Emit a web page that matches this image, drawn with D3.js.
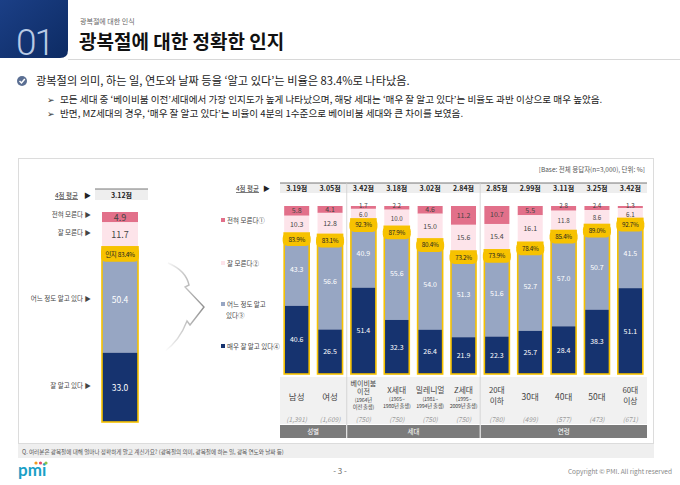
<!DOCTYPE html>
<html><head><meta charset="utf-8">
<script src="https://cdn.jsdelivr.net/npm/d3@7"></script>
<style>
html,body{margin:0;padding:0;background:#fff;}
svg{display:block;font-family:"Noto Sans CJK KR","Noto Sans",sans-serif;}
</style></head>
<body>
<svg id="c" width="680" height="485"></svg>
<script>
// ---------- DATA ----------
const segNames = ["전혀 모른다①","잘 모른다②","어느 정도 알고 있다③","매우 잘 알고 있다④"];
const totalLabels = ["전혀 모른다 ▶","잘 모른다 ▶","어느 정도 알고 있다 ▶","잘 알고 있다 ▶"];
const totalValues = [4.9, 11.7, 50.4, 33.0];
const totalAware = "인지 83.4%";
const totalAvg = "3.12점";

const categories = ["남성","여성","베이비붐 이전","X세대","밀레니얼","Z세대","20대 이하","30대","40대","50대","60대 이상"];
const catLines = [["남성"],["여성"],["베이비붐","이전","(1964년","이전 출생)"],["X세대","(1965~","1980년 출생)"],["밀레니얼","(1981~","1994년 출생)"],["Z세대","(1995~","2009년 출생)"],["20대","이하"],["30대"],["40대"],["50대"],["60대","이상"]];
const sampleN = ["(1,391)","(1,609)","(750)","(750)","(750)","(750)","(780)","(499)","(577)","(473)","(671)"];
const notAtAll = [5.8, 4.1, 1.7, 2.2, 4.6, 11.2, 10.7, 5.5, 2.8, 2.4, 1.3];
const notWell  = [10.3, 12.8, 6.0, 10.0, 15.0, 15.6, 15.4, 16.1, 11.8, 8.6, 6.1];
const someWhat = [43.3, 56.6, 40.9, 55.6, 54.0, 51.3, 51.6, 52.7, 57.0, 50.7, 41.5];
const veryWell = [40.6, 26.5, 51.4, 32.3, 26.4, 21.9, 22.3, 25.7, 28.4, 38.3, 51.1];
const awareLabels = ["83.9%","83.1%","92.3%","87.9%","80.4%","73.2%","73.9%","78.4%","85.4%","89.0%","92.7%"];
const avgLabels = ["3.19점","3.05점","3.42점","3.18점","3.02점","2.84점","2.85점","2.99점","3.11점","3.25점","3.42점"];
const groupNames = ["성별","세대","연령"];
const groupSizes = [2, 4, 5];

const colors = ["#e2708a","#fde4ea","#97a6c3","#16336f"];
const textColors = ["#444","#444","#fff","#fff"];
const yellow = "#f7c200";

// ---------- SETUP ----------
const svg = d3.select("#c");

// Header
const defs = svg.append("defs");
const hg = defs.append("linearGradient").attr("id","hg").attr("x1",0).attr("y1",0).attr("x2",1).attr("y2",1);
hg.append("stop").attr("offset",0).attr("stop-color","#1b3f86");
hg.append("stop").attr("offset",1).attr("stop-color","#0d2b63");
svg.append("path").attr("d","M0,0 H68 V50 Q68,58 60,58 H0 Z").attr("fill","url(#hg)");
svg.append("text").attr("x",16).attr("y",55).attr("font-size",37).attr("fill","#b9cae4").attr("font-family","Roboto, sans-serif").attr("font-weight",300).attr("letter-spacing",-2).text("01");
svg.append("line").attr("x1",68).attr("x2",680).attr("y1",59.5).attr("y2",59.5).attr("stroke","#d8d8d8");
svg.append("text").attr("x",80).attr("y",24).attr("font-size",7).attr("fill","#666").text("광복절에 대한 인식");
svg.append("text").attr("x",79).attr("y",49).attr("font-size",19).attr("font-weight",700).attr("fill","#111").text("광복절에 대한 정확한 인지");

// bullets
svg.append("circle").attr("cx",22).attr("cy",81).attr("r",5).attr("fill","#5b6f93");
svg.append("path").attr("d","M19.5,81 L21.5,83 L24.8,79").attr("stroke","#fff").attr("stroke-width",1.5).attr("fill","none");
svg.append("text").attr("x",36).attr("y",85).attr("font-size",11.2).attr("fill","#222").text("광복절의 의미, 하는 일, 연도와 날짜 등을 ‘알고 있다’는 비율은 83.4%로 나타났음.");
const subs = ["모든 세대 중 ‘베이비붐 이전’세대에서 가장 인지도가 높게 나타났으며, 해당 세대는 ‘매우 잘 알고 있다’는 비율도 과반 이상으로 매우 높았음.",
              "반면, MZ세대의 경우, ‘매우 잘 알고 있다’는 비율이 4분의 1수준으로 베이비붐 세대와 큰 차이를 보였음."];
subs.forEach((s,i)=>{
  const y = 103 + i*14;
  svg.append("text").attr("x",47).attr("y",y).attr("font-size",9).attr("fill","#333").text("➢");
  svg.append("text").attr("x",60).attr("y",y).attr("font-size",9.6).attr("fill","#222").text(s);
});

// Panel
svg.append("rect").attr("x",18.5).attr("y",158.5).attr("width",635).attr("height",285).attr("fill","#fff").attr("stroke","#dcdcdc");
svg.append("rect").attr("x",18).attr("y",444).attr("width",636).attr("height",14).attr("fill","#efefef");
svg.append("text").attr("x",22).attr("y",453.5).attr("font-size",5.6).attr("fill","#555").text("Q. 여러분은 광복절에 대해 얼마나 정확하게 알고 계신가요? (광복절의 의미, 광복절에 하는 일, 광복 연도와 날짜 등)");

// Footer
svg.append("text").attr("x",18).attr("y",476).attr("font-size",17).attr("font-weight",700).attr("fill","#1b9fc6").attr("font-family","Lato, sans-serif").text("pmi");
svg.append("circle").attr("cx",36).attr("cy",463).attr("r",1.6).attr("fill","#f29a1f");
svg.append("circle").attr("cx",40.5).attr("cy",463).attr("r",1.6).attr("fill","#e24a6a");
svg.append("circle").attr("cx",46).attr("cy",463).attr("r",1.6).attr("fill","#8bc34a");
svg.append("text").attr("x",340).attr("y",474).attr("text-anchor","middle").attr("font-size",8).attr("fill","#666").text("- 3 -");
svg.append("text").attr("x",672).attr("y",474).attr("text-anchor","end").attr("font-size",6.5).attr("fill","#888").text("Copyright © PMI. All right reserved");

svg.append("text").attr("x",645).attr("y",172).attr("text-anchor","end").attr("font-size",6.5).attr("fill","#555").text("[Base: 전체 응답자(n=3,000), 단위: %]");

// ---------- LEFT TOTAL BAR ----------
const yL = d3.scaleLinear().domain([0,100]).range([422,212]);
const xL = d3.scaleBand().domain(["전체"]).range([102,138]);
const lx = xL("전체"), lw = xL.bandwidth();
svg.append("text").attr("x",55).attr("y",198).attr("font-size",6.5).attr("fill","#333").attr("text-decoration","underline").text("4점 평균");
svg.append("text").attr("x",84).attr("y",198).attr("font-size",7).attr("fill","#222").text("▶");
svg.append("rect").attr("x",95).attr("y",189).attr("width",53).attr("height",11).attr("fill","#eeeeee");
svg.append("line").attr("x1",95).attr("x2",148).attr("y1",189).attr("y2",189).attr("stroke","#555").attr("stroke-width",0.8);
svg.append("text").attr("x",121.5).attr("y",197.5).attr("text-anchor","middle").attr("font-size",7).attr("font-weight",700).attr("fill","#222").text(totalAvg);

let cumTop = 100;
const leftSegs = totalValues.map((v,i)=>{ const top = cumTop; cumTop -= v; return {v, i, top, bot: cumTop}; });
svg.append("g").selectAll("rect").data(leftSegs).join("rect")
  .attr("x",lx).attr("width",lw)
  .attr("y",d=>yL(d.top)).attr("height",d=>yL(d.bot)-yL(d.top))
  .attr("fill",d=>colors[d.i]);
const lAwareTop = 100 - totalValues[0] - totalValues[1];
svg.append("rect").attr("x",lx).attr("y",yL(lAwareTop)).attr("width",lw).attr("height",yL(0)-yL(lAwareTop))
  .attr("fill","none").attr("stroke",yellow).attr("stroke-width",1.6);
svg.append("g").selectAll("text").data(leftSegs).join("text")
  .attr("x",lx+lw/2).attr("y",d=>(yL(d.top)+yL(d.bot))/2+3.5)
  .attr("text-anchor","middle").attr("font-size",d=>d.i<2?9:8.5).attr("fill",d=>textColors[d.i])
  .text(d=>d.v.toFixed(1));
svg.append("rect").attr("x",lx-1).attr("y",yL(lAwareTop)).attr("width",lw+2).attr("height",15).attr("rx",5).attr("fill",yellow);
svg.append("text").attr("x",lx+lw/2).attr("y",yL(lAwareTop)+10).attr("text-anchor","middle").attr("font-size",6.5).attr("fill","#222").attr("letter-spacing",-0.3).text(totalAware);
const leftLabelY = [217, 235, 301, 388];
svg.append("g").selectAll("text").data(totalLabels).join("text")
  .attr("x",91).attr("y",(d,i)=>leftLabelY[i]).attr("text-anchor","end").attr("font-size",6.5).attr("fill","#444").text(d=>d);

// decorative arrow
const ag = defs.append("linearGradient").attr("id","ag").attr("x1",0).attr("y1",0).attr("x2",1).attr("y2",0);
ag.append("stop").attr("offset",0).attr("stop-color","#fff");
ag.append("stop").attr("offset",1).attr("stop-color","#8f8f8f");
svg.append("path")
  .attr("d","M168,263 C180,268 187,276 189,285 L185,287 L204,307 L190,325 L187,321 C182,334 176,343 165,351")
  .attr("fill","none").attr("stroke","url(#ag)").attr("stroke-width",1.4);

// ---------- RIGHT CHART ----------
const x = d3.scaleBand().domain(categories).range([280,647]).paddingInner(0.25).paddingOuter(0.125);
const y = d3.scaleLinear().domain([0,100]).range([374,206]);
const bw = x.bandwidth();

// legend
const legY = [[223],[266],[307,318],[349]];
segNames.forEach((n,i)=>{
  svg.append("rect").attr("x",221).attr("y",legY[i][0]-5).attr("width",4).attr("height",4).attr("fill",colors[i]);
  const parts = i===2 ? ["어느 정도 알고","있다③"] : [n];
  parts.forEach((p,k)=>svg.append("text").attr("x",k===0?227:226).attr("y",legY[i][k]).attr("font-size",6.5).attr("fill","#444").text(p));
});

// avg row
svg.append("text").attr("x",236).attr("y",191).attr("font-size",6.5).attr("fill","#333").attr("text-decoration","underline").text("4점 평균");
svg.append("text").attr("x",263).attr("y",191).attr("font-size",7).attr("fill","#222").text("▶");
svg.append("rect").attr("x",280).attr("y",183).attr("width",367).attr("height",10).attr("fill","#eeeeee");
svg.append("line").attr("x1",280).attr("x2",647).attr("y1",183).attr("y2",183).attr("stroke","#555").attr("stroke-width",0.8);
svg.append("g").selectAll("text").data(avgLabels).join("text")
  .attr("x",(d,i)=>x(categories[i])+bw/2).attr("y",191).attr("text-anchor","middle")
  .attr("font-size",7).attr("font-weight",700).attr("fill","#222").text(d=>d);

// category background
svg.append("rect").attr("x",280).attr("y",377).attr("width",367).attr("height",47).attr("fill","#f1f1f1");

// stacked data
const rows = categories.map((c,i)=>({c, vals:[notAtAll[i],notWell[i],someWhat[i],veryWell[i]], aware:awareLabels[i]}));
const segs = [];
rows.forEach(r=>{ let top=100; r.vals.forEach((v,k)=>{ segs.push({c:r.c,k,v,top,bot:top-v,small:r.vals[0]<3}); top-=v; }); });

svg.append("g").selectAll("rect").data(segs).join("rect")
  .attr("x",d=>x(d.c)).attr("width",bw)
  .attr("y",d=>y(d.top)).attr("height",d=>y(d.bot)-y(d.top))
  .attr("fill",d=>colors[d.k]);
svg.append("g").selectAll("rect").data(rows).join("rect")
  .attr("x",d=>x(d.c)).attr("width",bw)
  .attr("y",d=>y(d.vals[2]+d.vals[3])).attr("height",d=>y(0)-y(d.vals[2]+d.vals[3]))
  .attr("fill","none").attr("stroke",yellow).attr("stroke-width",1.6);
// value labels
function labelY(d){
  const mid = (y(d.top)+y(d.bot))/2;
  if (d.small && d.k===0) return y(d.top)+1.6;      // tiny top segment
  if (d.small && d.k===1) return Math.max(mid+2.5, y(d.top)+8.6);
  return mid+2.5;
}
svg.append("g").selectAll("text").data(segs).join("text")
  .attr("x",d=>x(d.c)+bw/2)
  .attr("y",labelY)
  .attr("text-anchor","middle").attr("font-size",d=>(d.small&&d.k<2)?6.2:7).attr("fill",d=>textColors[d.k])
  .text(d=>d.v.toFixed(1));
// aware pills
svg.append("g").selectAll("rect").data(rows).join("rect")
  .attr("x",d=>x(d.c)-1.5).attr("width",bw+3)
  .attr("y",d=>y(d.vals[2]+d.vals[3])).attr("height",13).attr("rx",5)
  .attr("fill",yellow);
svg.append("g").selectAll("text").data(rows).join("text")
  .attr("x",d=>x(d.c)+bw/2).attr("y",d=>y(d.vals[2]+d.vals[3])+8.5)
  .attr("text-anchor","middle").attr("font-size",6.3).attr("fill","#222").attr("letter-spacing",-0.3)
  .text(d=>d.aware);

// category labels
categories.forEach((c,i)=>{
  const lines = catLines[i];
  const cx = x(c)+bw/2;
  let ys, fs;
  if (lines.length===1){ ys=[400]; fs=[8.5]; }
  else if (lines.length===2){ ys=[392.5,404]; fs=[7.8,7.8]; }
  else if (lines.length===3){ ys=[393,400.8,408]; fs=[7.8,5.3,5.3]; }
  else { ys=[385.5,394,401.8,409]; fs=[7,7,5.3,5.3]; }
  lines.forEach((l,k)=>svg.append("text").attr("x",cx).attr("y",ys[k]).attr("text-anchor","middle")
    .attr("font-size",fs[k]).attr("fill","#444").attr("letter-spacing",fs[k]<7?-0.2:0).text(l));
  svg.append("text").attr("x",cx).attr("y",421.5).attr("text-anchor","middle").attr("font-size",6.5)
    .attr("font-style","italic").attr("fill","#999").text(sampleN[i]);
});

// group bands
let gi = 0;
const gap = x.step()*x.paddingInner()/2;
groupNames.forEach((g,k)=>{
  const first = categories[gi], last = categories[gi+groupSizes[k]-1];
  const x0 = k===0 ? 280 : x(first)-gap+0.5;
  const x1 = k===groupNames.length-1 ? 647 : x(last)+bw+gap-0.5;
  svg.append("rect").attr("x",x0).attr("y",425).attr("width",x1-x0).attr("height",13).attr("fill","#7b7b7b");
  svg.append("text").attr("x",(x0+x1)/2).attr("y",434).attr("text-anchor","middle").attr("font-size",6.5).attr("fill","#fff").text(g);
  if (k>0){
    svg.append("line").attr("x1",x(first)-gap).attr("x2",x(first)-gap).attr("y1",183).attr("y2",425).attr("stroke","#cfcfcf").attr("stroke-width",0.8);
  }
  gi += groupSizes[k];
});
</script>
</body></html>
